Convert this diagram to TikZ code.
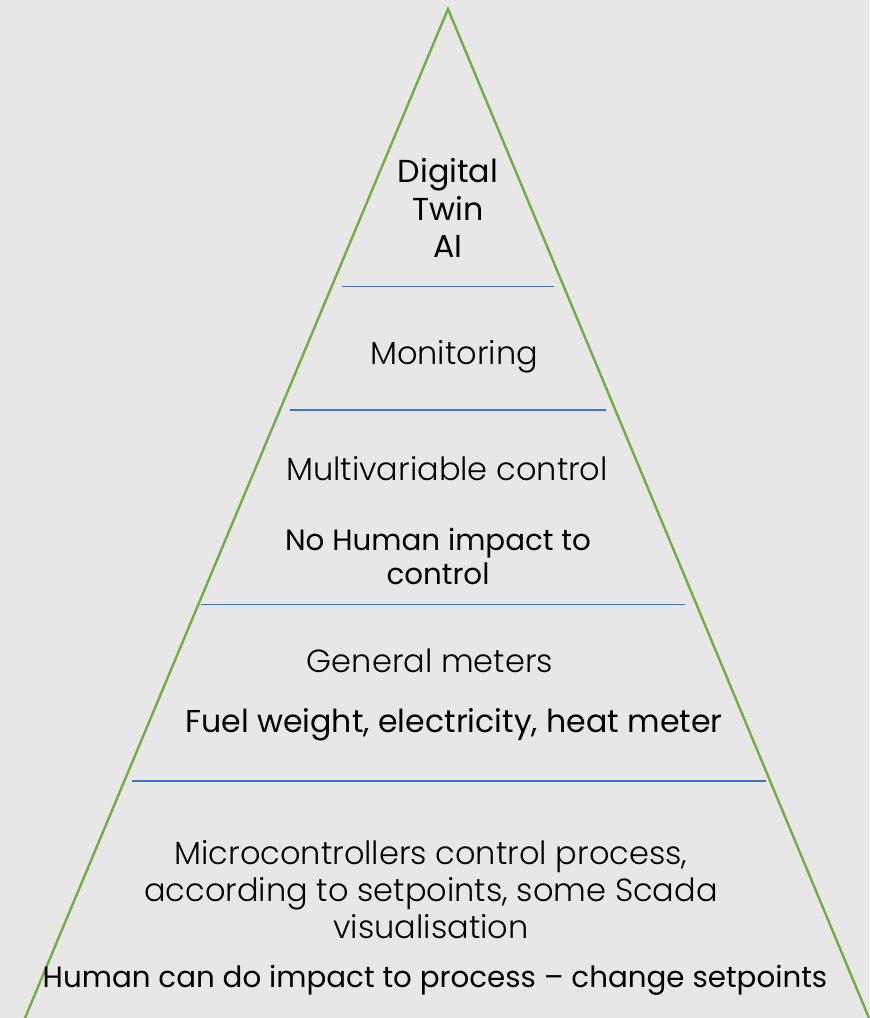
\documentclass[tikz,border=0pt]{standalone}
\usepackage{fontspec}
\setmainfont{Poppins}
\newfontfamily\poplight{Poppins Light}
\usepackage{tikz}

\begin{document}
\begin{tikzpicture}[x=0.75pt,y=0.75pt,yscale=-1,xscale=1,
  levelline/.style={color={rgb, 255:red, 68; green, 114; blue, 196 }, line width=0.9},
  lighttext/.style={inner sep=0.75pt, align=center, font=\poplight\fontsize{24}{28}\selectfont},
  darktext/.style={inner sep=0.75pt, align=center, font=\fontsize{22}{25.5}\selectfont}]
%set diagram left start at 0, and has height of 1018
\useasboundingbox (0,0) rectangle (869,1018);
\fill [color={rgb, 255:red, 231; green, 231; blue, 231 }] (0,0) rectangle (869,1018);

%Shape: Triangle [id:pyramid]
\draw [color={rgb, 255:red, 112; green, 173; blue, 71 }  ,line width=1.8]  (25,1018) -- (448,9) -- (869,1018) ;

%Straight Lines [id:levelA]
\draw [levelline]   (342,286.5) -- (554,286.5) ;
%Straight Lines [id:levelB]
\draw [levelline]   (290,410) -- (606,410) ;
%Straight Lines [id:levelC]
\draw [levelline]   (201,604.5) -- (685,604.5) ;
%Straight Lines [id:levelD]
\draw [levelline]   (132,781) -- (766,781) ;

% Text Node
\draw (448,208) node (twin) [darktext, font=\fontsize{23.8}{28}\selectfont] {Digital\\Twin\\AI};
% Text Node
\draw (454,357) node (monitor) [lighttext] {Monitoring};
% Text Node
\draw (447,469) node (multi) [lighttext] {Multivariable control};
% Text Node
\draw (438,556) node (nohuman) [darktext] {No Human impact to\\control};
% Text Node
\draw (430,661) node (meters) [lighttext] {General meters};
% Text Node
\draw (454,725) node (fuel) [darktext, font=\fontsize{23.7}{28}\selectfont] {Fuel weight, electricity, heat meter};
% Text Node
\draw (431,889.5) node (micro) [lighttext] {Microcontrollers control process,\\according to setpoints, some Scada\\visualisation};
% Text Node
\draw (435,980) node (human) [darktext] {Human can do impact to process -- change setpoints};

\end{tikzpicture}
\end{document}
